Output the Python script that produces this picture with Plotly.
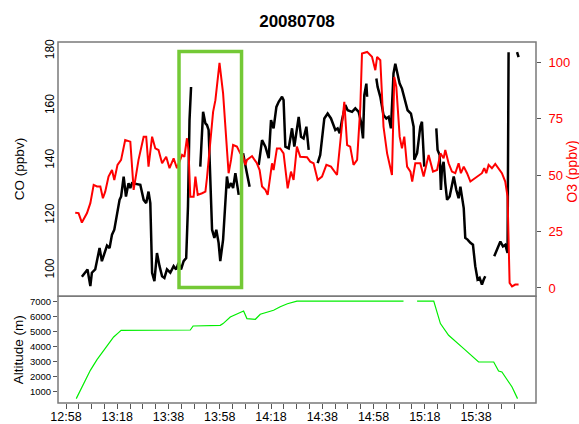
import pandas as pd
import plotly.graph_objects as go

# Flight of 2008-07-08: sample times are minutes after 12:00; None marks a data gap.
co_min = [64.2, 65.5, 66.4, 67.5, 68.1, 69.4, 70.3, 71.1, 72.0, 72.9, 74.0, 75.0, 75.95, 76.85, 77.9,
          78.9, 79.5, 80.5, 81.4, 82.4, 83.1, 83.75, 87.0, 88.3, 89.3, 90.2, 90.9, 91.6, 92.5, 93.5,
          94.5, 95.5, 96.4, 97.4, 98.7, 100.0, 101.0, 101.9, 102.9, 103.9, 104.9, 105.6, 106.2, 106.8, None,
          110.4, 111.5, 112.4, 113.0, 113.65, 114.3, 115.0, 115.9, 116.65, 117.55, 118.2, 119.3, 120.2,
          120.8, 121.45, 122.4, 123.2, 124.1, 124.7, 125.4, None,
          127.1, 128.0, 128.6, 129.65, None,
          133.2, 134.5, 135.8, 137.1, 138.0, 139.0, 140.1, 141.0, 142.3, 142.9, 143.6, 144.9, 146.2, 147.1,
          148.8, 149.7, 150.7, 151.8, 152.7, None,
          156.2, 157.2, 158.8, 160.1, 161.4, 162.4, 163.1, 164.0, 164.8, 165.7, 167.0, 167.9, 169.6, 170.9,
          172.2, 173.1, 173.9, 174.4, 175.2, 175.5, None,
          179.1, 179.6, 180.65, 181.3, 181.9, 183.0, 183.9, 184.8, 185.8, 186.5, 187.2, 188.2, 189.1, 190.4,
          191.3, 192.6, 193.65, 193.9, 195.0, 196.25, 196.9, 197.8, None,
          202.5, 203.0, 203.8, 204.3, 204.7, 205.35, 206.0, 206.7, 207.7, 208.6, 209.3, 210.3, 211.2, 211.9,
          212.5, 213.2, 213.8, 214.7, 215.8, 216.8, 217.7, 218.6, 219.4, 220.3, 221.0, 221.6, None,
          225.1, 226.2, 227.5, 228.5, 229.4, 230.3, 230.7, None,
          234.0, 234.6]
co_ppbv = [97.6, 99.1, 100.3, 94.2, 99.1, 100.3, 105.1, 108.1, 103.3, 106.3, 109.0, 108.1, 113.0, 114.8, 120.9,
           125.7, 126.9, 134.2, 126.9, 131.8, 130.0, 131.8, 131.2, 125.7, 124.5, 128.7, 124.5, 99.1, 96.0, 106.3,
           101.5, 97.8, 97.2, 100.3, 99.1, 101.5, 100.3, 102.7, 100.3, 103.3, 104.5, 123.3, 154.8, 166.9, None,
           137.8, 157.8, 153.6, 153.0, 151.2, 135.4, 114.8, 111.8, 114.8, 110.0, 103.3, 111.2, 125.7,
           134.2, 130.0, 131.8, 130.0, 135.4, 131.8, 127.5, None,
           142.7, 137.8, 135.4, 130.5, None,
           138.4, 147.5, 145.1, 140.9, 154.8, 151.8, 159.6, 161.5, 163.3, 162.1, 145.1, 144.5, 151.8, 145.1,
           156.0, 148.7, 148.1, 152.4, 143.9, None,
           139.1, 142.1, 155.4, 157.2, 155.4, 153.0, 151.2, 151.8, 150.0, 154.8, 160.3, 158.4, 157.8, 159.1,
           157.8, 154.2, 148.1, 163.9, 168.1, 163.3, None,
           170.0, 166.9, 163.3, 159.6, 156.6, 155.4, 156.0, 151.8, 171.8, 175.4, 172.4, 168.1, 166.3, 162.1,
           158.4, 157.2, 152.4, 140.3, 142.7, 152.4, 154.2, 137.8, None,
           151.8, 143.9, 142.1, 129.3, 137.2, 139.6, 131.8, 125.7, 126.9, 131.2, 134.2, 129.3, 126.3, 130.5,
           126.9, 122.7, 111.8, 111.2, 110.0, 109.3, 101.5, 96.6, 97.2, 94.8, 96.6, 97.8, None,
           105.1, 107.5, 110.5, 108.7, 109.3, 106.3, 179.6, None,
           179.6, 177.8]

o3_min = [61.6, 62.9, 64.2, 66.2, 67.5, 68.8, 70.1, 71.4, 72.4, 73.3, 74.6, 75.95, 76.85, 78.1, 79.5,
          81.1, 83.1, 84.4, 86.3, 88.3, 89.3, 90.2, 91.6, 92.85, 94.1, 95.5, 97.1, 98.4, 100.0, 101.3,
          103.3, 104.2, 105.2, 105.8, 106.5, 107.8, 108.5, 109.4, 111.1, 112.4, 113.0, 114.3, 115.4, 116.3,
          117.9, 119.3, 120.2, 121.45, 122.4, 123.2, 124.7, 126.0, 126.7, 128.0, 128.6, 130.6, 132.5, 133.55,
          134.5, 135.8, 136.7, 138.4, 139.0, 140.3, 141.6, 142.9, 144.5, 145.8, 146.8, 148.1, 149.4, 152.05,
          153.3, 154.6, 156.2, 157.9, 159.6, 161.4, 163.75, 165.0, 166.6, 167.7, 168.9, 170.2, 171.6, 172.85,
          173.5, 175.5, 177.4, 178.7, 179.4, 180.65, 181.9, 183.3, 185.2, 186.1, 186.9, 188.2, 189.1, 190.0,
          191.1, 192.4, 193.1, 194.3, 196.25, 197.55, 199.5, 201.2, 202.8, 204.1, 205.35, 206.0, 207.3, 208.6,
          209.9, 211.2, 212.1, 213.2, 214.5, 215.8, 217.7, 220.3, 221.2, 222.0, 222.9, 224.2, 225.5, 226.8,
          228.1, 229.4, 230.3, 231.1, 232.05, 233.3, 234.6]
o3_ppbv = [33.4, 33.2, 29.0, 33.2, 37.6, 45.7, 45.0, 45.0, 39.8, 42.7, 49.4, 52.3, 47.9, 54.6, 56.8,
           65.6, 64.9, 43.5, 56.8, 67.1, 67.1, 53.8, 67.1, 61.9, 61.2, 55.3, 58.2, 53.1, 57.5, 53.1,
           59.0, 58.2, 66.4, 61.2, 40.5, 40.5, 49.4, 41.3, 42.0, 42.7, 48.7, 65.6, 78.1, 83.3,
           99.8, 86.3, 73.0, 50.9, 56.8, 63.4, 62.7, 59.7, 59.7, 54.6, 56.8, 58.5, 55.3, 52.3,
           45.0, 43.5, 41.3, 55.3, 52.3, 61.9, 61.9, 59.7, 44.2, 51.6, 47.9, 62.7, 58.2, 58.0,
           56.0, 55.3, 47.9, 49.4, 54.6, 53.8, 50.1, 65.6, 82.6, 63.4, 62.7, 54.6, 56.8, 80.4,
           104.0, 104.7, 102.5, 96.6, 102.5, 101.0, 71.5, 59.7, 50.1, 93.6, 89.2, 67.1, 61.9, 67.1,
           53.8, 51.6, 47.2, 55.3, 55.3, 49.4, 59.0, 51.6, 52.3, 59.7, 57.5, 61.2, 55.3, 51.6,
           50.9, 55.3, 50.9, 53.8, 50.9, 47.2, 48.7, 50.9, 53.1, 50.9, 54.6, 53.1, 55.0, 53.1,
           50.9, 47.2, 40.5, 2.2, 0.7, 1.5, 1.5]

alt_min = [62.0, 64.9, 67.5, 70.1, 72.7, 74.6, 76.6, 78.4, 79.5, 106.5, 107.6, 118.2, 119.3, 122.1,
           124.7, 127.3, 128.6, 131.9, 133.8, 139.0, 141.6, 144.4, 148.1, 189.7, None, 195.0, 201.5,
           204.1, 207.3, 213.2, 219.0, 224.9, 226.8, 228.1, 232.05, 234.2]
alt_m = [509, 1517, 2411, 3130, 3755, 4205, 4648, 4925, 5098, 5120, 5387, 5434, 5549, 5992,
         6220, 6395, 5885, 5838, 6174, 6442, 6680, 6880, 7060, 7060, None, 7060, 7060,
         5549, 4762, 3869, 2968, 2968, 2364, 2297, 1289, 509]

# Highlighted interval (time window and CO extent)
box_start, box_end = "13:42:06", "14:06:30"
box_co_low, box_co_high = 93.7, 179.8

# Axis ticks
time_labels = ["12:58", "13:18", "13:38", "13:58", "14:18", "14:38", "14:58", "15:18", "15:38"]
time_minor_step_min = 5
time_minor_count = 36
co_ticks = [100, 120, 140, 160, 180]
o3_ticks = [0, 25, 50, 75, 100]
alt_ticks = [1000, 2000, 3000, 4000, 5000, 6000, 7000]

DAY = pd.Timestamp("2008-07-08 12:00:00")


def to_time(minutes):
    return [None if m is None else (DAY + pd.Timedelta(minutes=m)).to_pydatetime() for m in minutes]


def clock(hhmm):
    return pd.Timestamp(f"2008-07-08 {hhmm}").to_pydatetime()


major_vals = [clock(t) for t in time_labels]
minor_vals = [major_vals[0] + pd.Timedelta(minutes=time_minor_step_min * k) for k in range(time_minor_count)]

FONT = "Liberation Sans, Arial, Helvetica, sans-serif"
SPLIT = 0.2956  # boundary between the altitude strip and the chemistry panel

fig = go.Figure()
fig.add_trace(go.Scatter(x=to_time(o3_min), y=o3_ppbv, mode="lines", yaxis="y2",
                         line=dict(color="#ff0000", width=2), connectgaps=False, name="O3"))
fig.add_trace(go.Scatter(x=to_time(co_min), y=co_ppbv, mode="lines", yaxis="y",
                         line=dict(color="#000000", width=2.5), connectgaps=False, name="CO"))
fig.add_trace(go.Scatter(x=to_time(alt_min), y=alt_m, mode="lines", yaxis="y3",
                         line=dict(color="#00ee00", width=1.2), connectgaps=False, name="Altitude"))

frame = dict(color="#7a7a7a", width=1.5)
fig.add_shape(type="rect", xref="paper", yref="paper", x0=0, x1=1, y0=SPLIT, y1=1, line=frame, layer="above")
fig.add_shape(type="rect", xref="paper", yref="paper", x0=0, x1=1, y0=0, y1=SPLIT, line=frame, layer="above")
fig.add_shape(type="rect", xref="x", yref="y", x0=clock(box_start), x1=clock(box_end),
              y0=box_co_low, y1=box_co_high, line=dict(color="#74c936", width=3.5), layer="above")

fig.update_layout(
    width=579, height=424,
    margin=dict(l=58, r=43, t=42, b=21, pad=0),
    paper_bgcolor="white", plot_bgcolor="white",
    showlegend=False,
    font=dict(family=FONT, color="black"),
    title=dict(text="<b>20080708</b>", x=0.5, xref="paper", y=1 - 21 / 424, yanchor="middle",
               font=dict(size=17, family=FONT, color="black")),
    xaxis=dict(type="date", domain=[0, 1], anchor="y3", automargin=False,
               range=[DAY + pd.Timedelta(minutes=54.88), DAY + pd.Timedelta(minutes=241.4)],
               tickmode="array", tickvals=major_vals, tickformat="%H:%M",
               ticks="outside", ticklen=5, tickcolor="#555555", tickwidth=1, ticklabelstandoff=-3,
               minor=dict(tickmode="array", tickvals=minor_vals, ticks="outside", ticklen=5,
                          tickcolor="#555555", tickwidth=1),
               tickfont=dict(size=12.5, color="black"), showgrid=False, zeroline=False, showline=False),
    yaxis=dict(domain=[SPLIT, 1], anchor="x", automargin=False, range=[90.5, 183.3], tickmode="array",
               tickvals=co_ticks, ticks="", tickangle=-90, ticklabelstandoff=1,
               tickfont=dict(size=12, color="black"),
               showgrid=False, zeroline=False, showline=False),
    yaxis2=dict(overlaying="y", side="right", anchor="x", automargin=False, range=[-3.7, 109.1],
                tickmode="array", tickvals=o3_ticks, ticks="outside", ticklen=4, tickcolor="#555555",
                ticklabelstandoff=5, tickfont=dict(size=13, color="#ff0000"),
                showgrid=False, zeroline=False, showline=False),
    yaxis3=dict(domain=[0, SPLIT], anchor="x", automargin=False, range=[215, 7383], tickmode="array",
                tickvals=alt_ticks, ticks="outside", ticklen=4, tickcolor="#555555",
                tickfont=dict(size=9.5, color="black"),
                showgrid=False, zeroline=False, showline=False),
    annotations=[
        dict(text="CO (ppbv)", xref="paper", yref="paper", x=-0.0816, y=(SPLIT + 1) / 2, textangle=-90,
             showarrow=False, xanchor="center", yanchor="middle", font=dict(size=13.5, color="black")),
        dict(text="O3 (ppbv)", xref="paper", yref="paper", x=1.0747, y=0.64, textangle=-90,
             showarrow=False, xanchor="center", yanchor="middle", font=dict(size=14, color="#ff0000")),
        dict(text="Altitude (m)", xref="paper", yref="paper", x=-0.0826, y=SPLIT / 2, textangle=-90,
             showarrow=False, xanchor="center", yanchor="middle", font=dict(size=13.5, color="black")),
    ],
)

fig.write_html("out.html")
